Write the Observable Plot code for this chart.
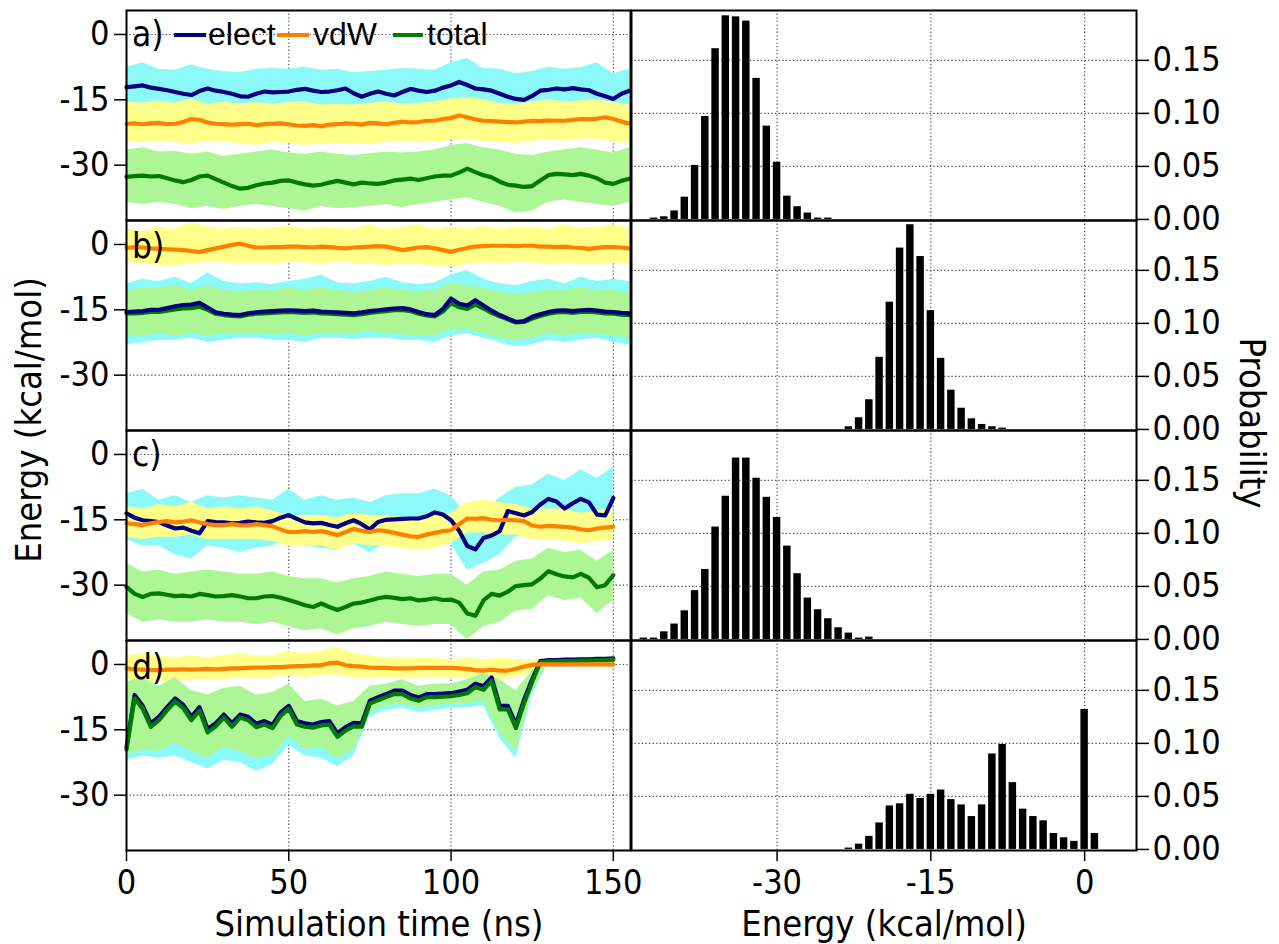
<!DOCTYPE html>
<html><head><meta charset="utf-8">
<script src="https://cdn.jsdelivr.net/npm/d3@7"></script>
<script src="https://cdn.jsdelivr.net/npm/@observablehq/plot@0.6"></script>
<style>
html,body{margin:0;padding:0;background:#fff;}
#chart{position:relative;width:1279px;height:944px;overflow:hidden;background:#fff;}
#chart svg{position:absolute;}
</style></head>
<body><div id="chart"></div>
<script>
// ---------------- DATA ----------------
const lineStep = 2.5; // ns between samples of running-average lines
const bandStep = 5;   // ns between samples of raw-fluctuation envelopes

// Panel a)
const aElect = [-12.1,-11.9,-11.7,-12.2,-12.5,-12.8,-13.2,-13.6,-13.9,-13.0,
 -12.4,-12.9,-13.2,-13.6,-14.2,-14.3,-13.6,-13.1,-13.3,-13.2,
 -13.1,-12.7,-12.5,-12.9,-13.2,-13.1,-12.8,-12.4,-13.5,-14.3,
 -13.6,-13.1,-13.6,-14.0,-13.2,-12.5,-12.9,-13.2,-12.9,-12.2,
 -11.7,-10.9,-11.6,-12.4,-12.6,-12.9,-13.6,-14.3,-14.8,-15.0,
 -14.1,-12.9,-12.7,-12.4,-12.6,-12.3,-12.6,-12.8,-13.6,-14.2,
 -14.8,-13.6,-12.9];
const aVdw = [-20.5,-20.4,-20.6,-20.4,-20.3,-20.6,-20.5,-20.1,-19.4,-19.6,
 -20.2,-20.5,-20.6,-20.7,-20.6,-20.5,-20.8,-20.6,-20.5,-20.4,
 -20.6,-20.9,-21.0,-20.8,-21.1,-20.7,-20.6,-20.4,-20.5,-20.7,
 -20.3,-20.4,-20.6,-20.3,-20.0,-20.2,-20.1,-19.8,-19.8,-19.4,
 -19.2,-18.6,-19.0,-19.5,-19.8,-19.9,-20.0,-20.1,-20.2,-20.0,
 -19.8,-19.9,-19.7,-19.8,-19.8,-19.6,-19.4,-19.5,-19.3,-19.0,
 -19.4,-20.0,-20.5];
const aTotal = [-32.7,-32.5,-32.4,-32.6,-32.5,-33.0,-33.5,-33.9,-33.4,-32.6,
 -32.4,-33.2,-34.0,-34.8,-35.4,-35.2,-34.6,-34.2,-34.0,-33.6,
 -33.5,-34.0,-34.4,-34.7,-34.5,-34.0,-33.6,-34.0,-34.4,-34.0,
 -34.2,-34.3,-34.0,-33.5,-33.3,-33.1,-33.4,-33.0,-32.6,-32.4,
 -32.4,-31.7,-30.8,-31.6,-32.3,-32.8,-33.8,-34.5,-34.7,-35.0,
 -34.8,-33.5,-32.3,-32.0,-32.1,-32.3,-32.0,-32.4,-33.0,-34.0,
 -34.3,-33.6,-33.1];
const aElectHi = [-7.5,-6.5,-8.0,-8.2,-7.0,-8.0,-8.5,-8.8,-8.0,-7.8,-8.0,-7.5,-8.2,-8.0,-8.8,-8.5,-8.2,-7.8,-8.0,-8.2,-6.5,-5.5,-7.8,-8.0,-9.0,-8.5,-7.5,-8.0,-7.6,-6.5,-9.0,-8.0];
const aElectLo = [-16.8,-16.5,-17.2,-17.5,-18.0,-17.0,-17.5,-18.2,-17.2,-17.0,-17.5,-17.0,-17.2,-17.8,-17.5,-17.2,-17.8,-17.0,-17.0,-17.4,-16.5,-16.2,-17.0,-17.5,-18.5,-18.8,-17.0,-17.0,-17.2,-17.8,-18.5,-17.2];
const aVdwHi = [-15.5,-15.8,-15.2,-15.8,-14.8,-16.0,-15.5,-16.0,-15.6,-16.0,-15.7,-15.5,-16.2,-16.0,-16.2,-15.8,-15.5,-16.0,-15.8,-15.5,-14.8,-14.5,-15.0,-15.8,-16.0,-15.5,-15.0,-15.5,-15.2,-15.0,-15.6,-16.0];
const aVdwLo = [-24.5,-24.8,-24.5,-24.8,-25.2,-24.5,-24.8,-25.0,-25.5,-24.8,-25.0,-25.5,-25.2,-25.0,-25.0,-25.2,-24.8,-24.5,-24.8,-24.8,-24.2,-24.0,-24.5,-24.8,-25.0,-24.5,-24.2,-24.5,-24.0,-24.0,-24.5,-25.0];
const aTotalHi = [-26.5,-26.0,-27.0,-26.8,-27.5,-27.0,-28.0,-27.5,-27.0,-26.5,-27.2,-27.5,-27.0,-27.5,-27.8,-27.4,-27.0,-27.2,-27.0,-26.5,-25.5,-25.0,-26.0,-26.5,-27.5,-27.8,-27.0,-26.5,-26.0,-26.5,-27.2,-26.0];
const aTotalLo = [-38.5,-39.0,-38.5,-39.0,-40.0,-39.5,-40.2,-39.5,-39.0,-39.5,-40.0,-40.5,-39.5,-40.0,-39.8,-39.5,-39.0,-39.8,-39.0,-38.5,-38.0,-37.5,-38.5,-39.5,-41.0,-40.5,-38.5,-38.0,-38.5,-39.0,-39.5,-38.5];

// Panel b)
const bVdw = [-0.8,-0.6,-0.7,-0.9,-1.0,-1.1,-1.2,-1.3,-1.5,-1.7,
 -1.3,-0.9,-0.5,-0.1,0.2,-0.3,-0.7,-0.7,-0.6,-0.6,
 -0.5,-0.5,-0.6,-0.7,-0.5,-0.6,-0.8,-0.9,-0.7,-0.6,
 -0.5,-0.4,-0.5,-0.9,-1.3,-1.0,-0.7,-0.6,-0.9,-1.3,
 -1.7,-1.2,-0.8,-0.5,-0.4,-0.3,-0.3,-0.3,-0.4,-0.3,
 -0.3,-0.5,-0.5,-0.6,-0.5,-0.7,-0.8,-1.0,-0.8,-0.6,
 -0.6,-0.7,-0.9];
const bElect = [-15.5,-15.4,-15.3,-15.0,-15.0,-14.6,-14.2,-13.9,-13.8,-13.4,
 -14.5,-15.6,-15.9,-16.1,-16.2,-15.8,-15.6,-15.4,-15.3,-15.2,
 -15.1,-15.2,-15.3,-15.2,-15.4,-15.5,-15.6,-15.7,-15.8,-15.6,
 -15.3,-15.1,-14.9,-14.7,-14.6,-14.9,-15.5,-16.0,-16.2,-14.8,
 -12.4,-13.6,-14.0,-12.8,-14.0,-15.2,-16.2,-17.0,-17.8,-17.6,
 -16.6,-16.0,-15.5,-15.2,-15.1,-15.3,-15.1,-15.0,-15.2,-15.4,
 -15.5,-15.7,-15.8];
const bTotal = [-15.8,-15.8,-15.7,-15.5,-15.5,-15.2,-14.9,-14.7,-14.6,-14.3,
 -15.0,-15.9,-16.2,-16.4,-16.5,-16.1,-15.9,-15.8,-15.7,-15.6,
 -15.5,-15.6,-15.7,-15.6,-15.8,-15.9,-16.0,-16.1,-16.2,-16.0,
 -15.7,-15.5,-15.3,-15.1,-15.0,-15.3,-15.9,-16.3,-16.5,-15.4,
 -13.5,-14.4,-14.8,-13.8,-14.7,-15.7,-16.5,-17.2,-17.9,-17.8,
 -17.0,-16.4,-15.9,-15.6,-15.5,-15.7,-15.5,-15.4,-15.6,-15.8,
 -15.9,-16.1,-16.2];
const bVdwHi = [3.5,3.0,4.0,3.5,5.0,4.0,3.5,4.0,3.5,3.8,4.2,3.5,4.0,3.8,3.5,4.5,3.5,4.0,4.5,3.5,4.0,3.5,4.2,3.5,4.0,4.0,3.5,4.5,3.8,4.0,4.5,3.8];
const bVdwLo = [-4.0,-4.5,-4.8,-5.0,-4.5,-4.0,-4.2,-4.5,-4.2,-4.5,-4.0,-4.2,-4.5,-4.0,-4.3,-4.5,-4.8,-4.5,-4.5,-5.0,-5.2,-4.5,-4.2,-4.5,-4.0,-4.2,-4.5,-4.3,-4.5,-4.6,-4.2,-4.5];
const bElectHi = [-9.0,-8.0,-8.5,-7.5,-9.0,-6.5,-8.5,-9.0,-8.8,-9.2,-8.5,-8.0,-7.0,-8.8,-9.0,-8.5,-7.5,-8.8,-9.2,-8.8,-7.0,-6.0,-8.0,-9.0,-9.5,-8.5,-8.0,-9.0,-7.5,-8.5,-8.0,-8.5];
const bElectLo = [-23.0,-22.5,-22.0,-22.0,-21.5,-22.5,-22.0,-21.5,-21.5,-22.0,-22.0,-22.5,-21.5,-21.5,-21.8,-21.5,-21.5,-22.0,-22.0,-22.5,-21.0,-20.5,-21.5,-22.5,-23.5,-23.0,-22.0,-22.5,-22.0,-21.5,-22.5,-23.0];
const bTotalHi = [-10.5,-10.0,-10.0,-9.5,-10.5,-9.5,-10.5,-11.0,-10.5,-10.5,-10.0,-10.5,-10.0,-10.5,-11.0,-10.5,-10.0,-10.5,-10.8,-10.5,-9.0,-9.5,-10.0,-11.0,-11.5,-11.0,-10.5,-10.5,-10.0,-10.5,-10.5,-11.0];
const bTotalLo = [-21.0,-21.0,-20.5,-21.0,-20.5,-21.0,-20.5,-20.5,-20.5,-20.8,-20.5,-21.0,-20.5,-20.5,-20.5,-20.0,-20.5,-20.8,-21.0,-21.0,-19.5,-19.5,-20.5,-21.5,-22.0,-21.5,-20.5,-21.0,-20.5,-20.5,-21.0,-21.5];

// Panel c)
const cElect = [-13.5,-14.5,-15.1,-15.3,-15.5,-16.3,-17.0,-16.8,-17.5,-18.1,
 -15.3,-15.5,-15.6,-15.8,-15.7,-15.4,-15.6,-15.7,-15.3,-14.5,
 -13.9,-14.8,-15.6,-15.8,-15.7,-16.2,-16.6,-15.8,-15.1,-16.0,
 -17.2,-15.5,-15.0,-14.9,-14.8,-14.7,-14.7,-14.2,-13.3,-13.8,
 -15.1,-17.5,-21.0,-21.8,-19.2,-18.6,-17.6,-13.0,-13.5,-14.0,
 -13.2,-11.5,-10.2,-10.8,-12.4,-11.2,-10.2,-11.0,-13.8,-14.0,
 -10.0];
const cVdw = [-15.8,-16.0,-16.2,-15.8,-15.5,-15.3,-15.6,-15.4,-15.1,-15.6,
 -16.0,-16.2,-16.2,-16.0,-16.2,-16.3,-16.0,-16.2,-16.5,-17.2,
 -17.8,-17.8,-17.6,-17.8,-17.6,-18.0,-18.5,-17.8,-17.1,-17.5,
 -17.8,-17.4,-17.6,-18.0,-18.4,-18.8,-18.9,-18.4,-18.0,-17.6,
 -17.4,-16.0,-14.7,-14.8,-14.6,-15.0,-15.1,-15.0,-15.1,-15.3,
 -16.3,-16.6,-16.4,-16.5,-16.6,-16.8,-17.2,-17.4,-17.0,-16.8,
 -16.6];
const cTotal = [-30.4,-32.0,-32.7,-32.0,-31.9,-32.2,-32.5,-32.4,-32.6,-32.0,
 -32.3,-32.6,-32.5,-32.3,-32.6,-33.0,-33.0,-32.6,-32.5,-32.9,
 -33.4,-34.0,-34.6,-35.0,-34.2,-35.0,-35.7,-35.0,-34.2,-34.0,
 -33.5,-33.0,-32.7,-32.9,-33.2,-33.0,-33.5,-33.3,-33.0,-33.4,
 -33.3,-34.0,-36.5,-37.0,-33.5,-32.0,-32.4,-31.5,-30.2,-30.0,
 -29.8,-28.5,-26.8,-27.5,-28.0,-28.2,-27.4,-28.3,-30.5,-30.0,
 -27.7];
const cElectHi = [-9.0,-8.0,-10.5,-9.5,-11.0,-9.5,-10.0,-9.5,-10.0,-10.5,-8.0,-10.5,-9.5,-10.5,-10.0,-11.0,-9.5,-9.0,-9.0,-8.0,-9.5,-14.0,-13.0,-10.0,-7.5,-7.0,-4.5,-6.0,-3.5,-5.5,-3.0];
const cElectLo = [-19.5,-21.0,-21.0,-23.0,-24.0,-21.0,-21.5,-22.5,-21.5,-21.0,-19.5,-21.0,-21.5,-22.0,-20.5,-22.5,-20.5,-19.5,-19.5,-19.0,-20.5,-26.5,-25.0,-23.0,-19.0,-18.5,-16.5,-18.0,-16.5,-19.5,-16.0];
const cVdwHi = [-12.0,-12.5,-11.5,-12.0,-11.0,-12.5,-12.0,-12.5,-12.0,-13.0,-14.0,-14.0,-14.0,-14.5,-13.5,-14.0,-14.0,-14.5,-15.0,-14.0,-13.5,-11.0,-10.5,-11.0,-11.5,-12.5,-12.5,-12.5,-13.5,-13.0,-12.5];
const cVdwLo = [-19.0,-19.5,-19.0,-19.0,-18.5,-19.5,-19.5,-19.5,-19.5,-20.0,-21.0,-21.0,-21.0,-22.0,-20.5,-21.0,-21.0,-21.5,-22.0,-21.5,-20.5,-18.0,-18.0,-18.5,-18.5,-19.5,-19.5,-20.0,-20.5,-20.0,-19.5];
const cTotalHi = [-25.0,-27.0,-26.5,-27.5,-27.0,-26.5,-27.0,-27.5,-27.5,-27.0,-28.0,-28.5,-28.5,-29.5,-28.5,-28.0,-27.0,-27.5,-28.0,-27.5,-27.5,-30.0,-27.0,-26.5,-24.5,-24.0,-21.5,-22.5,-22.0,-24.5,-22.0];
const cTotalLo = [-36.5,-38.5,-38.0,-38.5,-38.5,-38.0,-38.5,-38.5,-39.0,-38.5,-39.5,-40.5,-40.0,-41.5,-40.0,-39.5,-38.5,-39.0,-39.5,-39.0,-39.0,-42.5,-39.5,-38.5,-36.0,-35.5,-32.5,-33.5,-33.0,-36.5,-33.5];

// Panel d)
const dVdw = [-0.9,-1.1,-1.2,-1.3,-1.3,-1.2,-1.2,-1.1,-1.2,-1.1,
 -1.0,-1.1,-1.0,-0.9,-0.9,-0.8,-0.7,-0.7,-0.6,-0.6,
 -0.5,-0.4,-0.4,-0.2,-0.2,0.3,0.4,-0.2,-0.4,-0.5,
 -0.7,-0.8,-0.8,-0.9,-0.9,-0.9,-0.8,-0.8,-0.8,-0.8,
 -0.8,-0.9,-1.0,-1.3,-1.4,-1.2,-1.4,-1.4,-1.0,-0.5,
 -0.1,0.0,0.0,0.0,0.0,0.0,0.0,0.0,0.0,0.0,
 0.0];
const dElect = [-19.0,-7.0,-9.5,-13.5,-12.0,-9.8,-7.8,-9.3,-12.0,-9.8,
 -14.8,-13.5,-11.5,-13.5,-11.5,-12.0,-13.6,-13.0,-13.8,-11.0,
 -9.5,-13.0,-13.5,-13.8,-13.2,-13.0,-15.8,-14.4,-13.4,-13.5,
 -8.3,-7.5,-6.8,-6.0,-6.0,-7.0,-7.6,-6.8,-6.8,-6.7,
 -6.6,-6.2,-5.8,-4.4,-5.0,-3.0,-9.5,-9.5,-13.8,-8.1,
 -3.4,0.8,1.0,1.0,1.1,1.1,1.2,1.2,1.3,1.3,
 1.4];
const dTotal = [-19.5,-7.8,-10.2,-14.3,-12.8,-10.5,-8.5,-10.0,-12.8,-10.6,
 -15.6,-14.2,-12.2,-14.3,-12.2,-12.8,-14.4,-13.8,-14.6,-11.8,
 -10.2,-13.8,-14.3,-14.5,-14.0,-13.8,-16.6,-15.2,-14.2,-14.3,
 -9.0,-8.2,-7.5,-6.8,-6.8,-7.8,-8.3,-7.5,-7.5,-7.4,
 -7.3,-7.0,-6.6,-5.2,-5.8,-3.8,-10.3,-10.3,-14.6,-8.9,
 -4.0,0.5,0.7,0.7,0.8,0.8,0.9,0.9,1.0,1.0,
 1.1];
const dVdwHi = [2.0,2.5,2.0,1.5,2.0,1.5,2.0,2.5,2.0,2.0,3.0,2.5,3.0,4.0,2.5,2.0,1.5,1.5,1.5,1.5,1.0,1.5,1.0,1.5,1.0,1.0,0.2,0.2,0.2,0.2,0.2];
const dVdwLo = [-3.5,-4.0,-4.0,-3.5,-3.8,-3.5,-3.5,-3.0,-3.2,-3.0,-2.5,-3.0,-2.5,-2.5,-3.0,-3.0,-3.0,-3.0,-3.0,-3.0,-3.0,-3.2,-3.5,-3.5,-3.0,-2.0,-0.2,-0.2,-0.2,-0.2,-0.2];
const dElectHi = [-5.0,-4.0,-5.5,-4.0,-6.5,-8.0,-6.5,-6.0,-8.0,-7.5,-5.5,-9.0,-8.5,-10.0,-9.0,-5.5,-5.0,-4.0,-5.5,-5.0,-5.0,-4.0,-2.5,-4.0,-7.0,-2.0,1.0,1.1,1.2,1.3,1.4];
const dElectLo = [-22.0,-21.0,-21.5,-21.0,-22.5,-24.0,-22.0,-22.5,-24.5,-23.0,-18.5,-21.0,-21.5,-23.5,-21.0,-12.0,-10.5,-10.0,-11.0,-10.5,-10.0,-10.0,-9.5,-17.0,-21.5,-7.0,0.5,0.6,0.7,0.8,0.9];
const dTotalHi = [-4.0,-3.0,-5.0,-3.0,-6.0,-7.0,-5.5,-5.0,-7.0,-6.5,-4.5,-8.5,-8.0,-9.5,-8.5,-5.0,-4.5,-3.5,-5.0,-4.5,-4.5,-3.5,-2.0,-3.5,-6.0,-1.5,1.0,1.1,1.2,1.3,1.4];
const dTotalLo = [-21.0,-19.5,-20.0,-18.0,-20.0,-21.5,-19.0,-20.0,-21.5,-21.0,-16.5,-19.5,-19.0,-21.5,-19.5,-11.0,-9.5,-9.0,-10.0,-9.5,-9.0,-9.0,-8.5,-15.5,-20.0,-6.0,0.5,0.6,0.7,0.8,0.9];

// Histograms (bin centre energy, kcal/mol; probability)
const histAEnergy = [-42,-41,-40,-39,-38,-37,-36,-35,-34,-33,-32,-31,-30,-29,-28,-27,-26,-25];
const histAProb = [0.0013,0.0025,0.008,0.021,0.051,0.097,0.161,0.192,0.191,0.187,0.133,0.088,0.054,0.022,0.012,0.006,0.0013,0.0013];
const histBEnergy = [-23,-22,-21,-20,-19,-18,-17,-16,-15,-14,-13,-12,-11,-10,-9,-8];
const histBProb = [0.0025,0.011,0.028,0.068,0.120,0.171,0.193,0.163,0.112,0.067,0.037,0.020,0.010,0.0047,0.0025,0.0013];
const histCEnergy = [-43,-42,-41,-40,-39,-38,-37,-36,-35,-34,-33,-32,-31,-30,-29,-28,-27,-26,-25,-24,-23,-22,-21];
const histCProb = [0.0013,0.0013,0.0072,0.0145,0.027,0.046,0.066,0.106,0.135,0.171,0.171,0.152,0.134,0.115,0.088,0.062,0.039,0.028,0.0195,0.011,0.006,0.0013,0.0022];
const histDEnergy = [-23,-22,-21,-20,-19,-18,-17,-16,-15,-14,-13,-12,-11,-10,-9,-8,-7,-6,-5,-4,-3,-2,-1,0,1];
const histDProb = [0.0013,0.005,0.0123,0.025,0.041,0.043,0.052,0.048,0.052,0.056,0.047,0.042,0.031,0.042,0.090,0.099,0.063,0.038,0.031,0.027,0.015,0.011,0.0076,0.132,0.015];

// Ticks & labels
const timeTicks = [0, 50, 100, 150];
const energyTicks = [0, -15, -30];
const histEnergyTicks = [-30, -15, 0];
const probTicks = [0, 0.05, 0.10, 0.15];
const panelLabels = ["a)", "b)", "c)", "d)"];
const seriesNames = ["elect", "vdW", "total"];

// ---------------- STYLE ----------------
const C = {
  elect: "#00007f", electLight: "#8cf9f9",
  vdw: "#ff8000", vdwLight: "#ffff8a",
  total: "#007a00", totalLight: "#adf696"
};
const FONT = '"DejaVu Sans Condensed","DejaVu Sans",sans-serif';
const rowTops = [10, 220, 430, 640];
const rowH = 210;
const bottomExtra = 94;

function lineRows(values, step) { return values.map((v, i) => ({t: i * step, v})); }
function bandRows(lo, hi, step) { return lo.map((l, i) => ({t: i * step, lo: l, hi: hi[i]})); }
function fmt(d) { return String(d); }

const leftSpecs = [
  {bands: [[aElectLo, aElectHi, C.electLight], [aVdwLo, aVdwHi, C.vdwLight], [aTotalLo, aTotalHi, C.totalLight]],
   lines: [[aElect, C.elect], [aTotal, C.total], [aVdw, C.vdw]]},
  {bands: [[bElectLo, bElectHi, C.electLight], [bVdwLo, bVdwHi, C.vdwLight], [bTotalLo, bTotalHi, C.totalLight]],
   lines: [[bTotal, C.total], [bElect, C.elect], [bVdw, C.vdw]]},
  {bands: [[cElectLo, cElectHi, C.electLight], [cVdwLo, cVdwHi, C.vdwLight], [cTotalLo, cTotalHi, C.totalLight]],
   lines: [[cTotal, C.total], [cElect, C.elect], [cVdw, C.vdw]]},
  {bands: [[dElectLo, dElectHi, C.electLight], [dVdwLo, dVdwHi, C.vdwLight], [dTotalLo, dTotalHi, C.totalLight]],
   lines: [[dElect, C.elect], [dTotal, C.total], [dVdw, C.vdw]]}
];
const histSpecs = [
  [histAEnergy, histAProb], [histBEnergy, histBProb], [histCEnergy, histCProb], [histDEnergy, histDProb]
];

const chart = document.getElementById("chart");
const gridStyle = {stroke: "#333", strokeOpacity: 0.9, strokeDasharray: "1.3,2.3", strokeWidth: 1.1};
const svgStyle = {fontFamily: FONT, fontSize: "34px", overflow: "visible", background: "transparent", color: "black"};

leftSpecs.forEach((spec, i) => {
  const bottom = i === 3;
  const marks = [
    Plot.gridX({ticks: [50, 100, 150], ...gridStyle}),
    Plot.gridY({ticks: energyTicks, ...gridStyle}),
    ...spec.bands.map(([lo, hi, fill]) => Plot.areaY(bandRows(lo, hi, bandStep), {x: "t", y1: "lo", y2: "hi", fill})),
    ...spec.lines.map(([vals, stroke]) => Plot.line(lineRows(vals, lineStep), {x: "t", y: "v", stroke, strokeWidth: 4.2})),
    Plot.frame({stroke: "black", strokeWidth: 2}),
    Plot.axisY({ticks: energyTicks, tickFormat: fmt, tickSize: 12, tickPadding: 5, label: null, strokeWidth: 1.5})
  ];
  if (bottom) marks.push(Plot.axisX({ticks: timeTicks, tickFormat: fmt, tickSize: 11, tickPadding: 8, label: null, strokeWidth: 1.5}));
  const svg = Plot.plot({
    width: 631, height: rowH + (bottom ? bottomExtra : 0),
    marginLeft: 126, marginRight: 1, marginTop: 0, marginBottom: bottom ? bottomExtra : 0,
    x: {domain: [0, 155.3], axis: null},
    y: {domain: [-42.7, 5.5], axis: null},
    style: svgStyle,
    marks
  });
  svg.style.left = "0px"; svg.style.top = rowTops[i] + "px";
  chart.appendChild(svg);
});

histSpecs.forEach(([E, P], i) => {
  const bottom = i === 3;
  const rows = E.map((e, k) => ({E: e, p: P[k]}));
  const marks = [
    Plot.gridX({ticks: histEnergyTicks, ...gridStyle}),
    Plot.gridY({ticks: [0.05, 0.10, 0.15], ...gridStyle}),
    Plot.rectY(rows, {x1: d => d.E - 0.5, x2: d => d.E + 0.5, y1: 0, y2: "p", insetLeft: 1.4, insetRight: 1.4, fill: "black"}),
    Plot.frame({stroke: "black", strokeWidth: 2}),
    Plot.axisY({ticks: probTicks, anchor: "right", tickFormat: d3.format(".2f"), tickSize: 12, tickPadding: 4, label: null, strokeWidth: 1.5})
  ];
  if (bottom) marks.push(Plot.axisX({ticks: histEnergyTicks, tickFormat: fmt, tickSize: 11, tickPadding: 8, label: null, strokeWidth: 1.5}));
  const svg = Plot.plot({
    width: 649, height: rowH + (bottom ? bottomExtra : 0),
    marginLeft: 1, marginRight: 143, marginTop: 0, marginBottom: bottom ? bottomExtra : 0,
    x: {domain: [-44.2, 5.06], axis: null},
    y: {domain: [-0.001, 0.197], axis: null},
    style: svgStyle,
    marks
  });
  svg.style.left = "630px"; svg.style.top = rowTops[i] + "px";
  chart.appendChild(svg);
});

// ---------------- OVERLAY TEXT (titles, panel labels, legend) ----------------
const ns = "http://www.w3.org/2000/svg";
const ov = document.createElementNS(ns, "svg");
ov.setAttribute("width", 1279); ov.setAttribute("height", 944);
ov.style.left = "0px"; ov.style.top = "0px"; ov.style.pointerEvents = "none";
chart.appendChild(ov);
function txt(s, x, y, opts = {}) {
  const t = document.createElementNS(ns, "text");
  t.textContent = s;
  t.setAttribute("x", x); t.setAttribute("y", y);
  t.setAttribute("font-family", opts.family || FONT);
  t.setAttribute("font-size", opts.size || 36);
  t.setAttribute("fill", "black");
  if (opts.anchor) t.setAttribute("text-anchor", opts.anchor);
  if (opts.transform) t.setAttribute("transform", opts.transform);
  ov.appendChild(t);
  return t;
}
const labelBaselines = [46, 258, 466, 679];
panelLabels.forEach((s, i) => txt(s, 132, labelBaselines[i], {size: 35}));

// legend in panel a
const legendColors = [C.elect, C.vdw, C.total];
const legendLineX = [[174, 206], [277, 309], [393, 423]];
const legendTextX = [208, 313, 427];
seriesNames.forEach((name, k) => {
  const l = document.createElementNS(ns, "line");
  l.setAttribute("x1", legendLineX[k][0]); l.setAttribute("x2", legendLineX[k][1]);
  l.setAttribute("y1", 35); l.setAttribute("y2", 35);
  l.setAttribute("stroke", legendColors[k]); l.setAttribute("stroke-width", 4);
  ov.appendChild(l);
  txt(name, legendTextX[k], 45, {family: '"Liberation Sans",Arial,sans-serif', size: 32});
});

txt("Simulation time (ns)", 379, 936, {anchor: "middle"});
txt("Energy (kcal/mol)", 884, 936, {anchor: "middle"});
txt("Energy (kcal/mol)", 0, 0, {anchor: "middle", transform: "translate(41,420) rotate(-90)"});
txt("Probability", 0, 0, {anchor: "middle", transform: "translate(1240,423) rotate(90)"});
</script>
</body></html>
